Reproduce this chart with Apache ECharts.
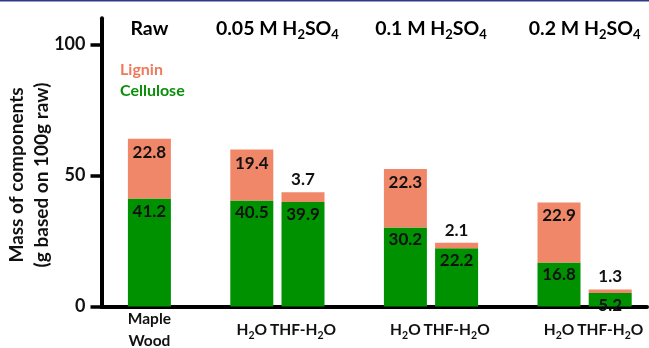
<!DOCTYPE html>
<html>
<head>
<meta charset="utf-8">
<script src="https://cdn.jsdelivr.net/npm/echarts@6/dist/echarts.min.js"></script>
<style>
  html, body { margin: 0; padding: 0; background: #fff; }
  #chart { width: 649px; height: 348px; }
</style>
</head>
<body>
<div id="chart"></div>
<script>
// Pretreatment groups and the treatments within them
const groups = ['Raw', '0.05 M H2SO4', '0.1 M H2SO4', '0.2 M H2SO4'];
const treatments = ['Maple\nWood', 'H2O', 'THF-H2O', 'H2O', 'THF-H2O', 'H2O', 'THF-H2O'];
const treatmentGroup = [0, 1, 1, 2, 2, 3, 3];

// Mass of components, g per 100 g raw wood
const cellulose = [41.2, 40.5, 39.9, 30.2, 22.2, 16.8, 5.2];
const lignin = [22.8, 19.4, 3.7, 22.3, 2.1, 22.9, 1.3];

const yTicks = [0, 50, 100];
const yMax = 110;

const FONT = 'Lato';
const LIGNIN = '#F08769';
const CELL = '#009100';

// Subscript digits that follow a letter (H2SO4 -> H{s|2}SO{s|4})
function chem(s, base, sub) {
  return s.split('\n').map(line =>
    line.replace(/([A-Za-z])(\d)/g, '$1\u0000$2\u0001')
        .split(/(\u0000\d\u0001)/)
        .filter(t => t.length)
        .map(t => t[0] === '\u0000' ? '{' + sub + '|' + t[1] + '}' : '{' + base + '|' + t + '}')
        .join('')
  ).join('\n');
}

// Category slots: a blank spacer separates neighbouring groups
const slots = [], cellData = [], ligData = [], slotOfBar = [];
treatments.forEach((t, i) => {
  if (i > 0 && treatmentGroup[i] !== treatmentGroup[i - 1]) {
    slots.push(''); cellData.push('-'); ligData.push('-');
  }
  slotOfBar.push(slots.length);
  slots.push(t);
  cellData.push(cellulose[i]);
  ligData.push({
    value: lignin[i],
    label: lignin[i] < 8
      ? { position: 'top', distance: 4 }
      : { position: 'insideTop', distance: 5 }
  });
});

const chart = echarts.init(document.getElementById('chart'), null, { renderer: 'canvas' });

const gridTop = 18.3, gridBottom = 41.5;
const valueLabel = {
  show: true,
  color: '#111',
  fontFamily: FONT,
  fontWeight: 'bold',
  fontSize: 17
};

chart.setOption({
  animation: false,
  backgroundColor: '#fff',
  grid: [
    { left: 123.8, right: 13.2, top: gridTop, bottom: gridBottom, outerBoundsMode: 'none', containLabel: false },
    { left: 101.5, right: 2, top: gridTop, bottom: gridBottom, outerBoundsMode: 'none', containLabel: false }
  ],
  legend: {
    orient: 'vertical',
    left: 110,
    top: 57,
    itemWidth: 0,
    itemHeight: 0,
    itemGap: 5,
    selectedMode: false,
    textStyle: { fontFamily: FONT, fontWeight: 'bold', fontSize: 16 },
    data: [
      { name: 'Lignin', textStyle: { color: '#EF7A5C' } },
      { name: 'Cellulose', textStyle: { color: '#0A8F0A' } }
    ]
  },
  xAxis: [
    {
      type: 'category',
      gridIndex: 0,
      data: slots,
      axisLine: { show: false },
      axisTick: { show: false },
      axisLabel: {
        interval: 0,
        margin: 23.5,
        verticalAlign: 'middle',
        formatter: v => chem(v, 'a', 's'),
        rich: {
          a: { fontFamily: FONT, fontWeight: 'bold', fontSize: 15.5, color: '#111', lineHeight: 22 },
          s: { fontFamily: FONT, fontWeight: 'bold', fontSize: 10.5, color: '#111', lineHeight: 11, verticalAlign: 'bottom' }
        }
      }
    },
    {
      type: 'value',
      gridIndex: 1,
      min: 0, max: 1,
      offset: 1.5,
      axisLine: { show: true, lineStyle: { color: '#000', width: 4 } },
      axisTick: { show: false },
      axisLabel: { show: false },
      splitLine: { show: false }
    }
  ],
  yAxis: [
    {
      type: 'value', gridIndex: 0, min: 0, max: yMax, show: false
    },
    {
      type: 'value', gridIndex: 1, min: 0, max: yMax,
      axisLine: { show: true, lineStyle: { color: '#000', width: 4 } },
      axisTick: { show: true, length: 11, customValues: yTicks, lineStyle: { color: '#000', width: 3.5 } },
      axisLabel: {
        customValues: yTicks, margin: 16,
        fontFamily: FONT, fontWeight: 'bold', fontSize: 18, color: '#111'
      },
      splitLine: { show: false }
    }
  ],
  series: [
    {
      name: 'Cellulose', type: 'bar', stack: 'mass',
      xAxisIndex: 0, yAxisIndex: 0,
      barWidth: 43,
      itemStyle: { color: CELL },
      label: Object.assign({ position: 'insideTop', distance: 4 }, valueLabel),
      data: cellData
    },
    {
      name: 'Lignin', type: 'bar', stack: 'mass',
      xAxisIndex: 0, yAxisIndex: 0,
      barWidth: 43,
      itemStyle: { color: LIGNIN },
      label: valueLabel,
      data: ligData
    }
  ]
});

// Group headings centred over each group's bars, plus the y-axis title
const headerRich = {
  a: { fontFamily: FONT, fontWeight: 'bold', fontSize: 19.5, color: '#111', lineHeight: 25 },
  s: { fontFamily: FONT, fontWeight: 'bold', fontSize: 13, color: '#111', lineHeight: 13, verticalAlign: 'bottom' }
};
const headers = groups.map((g, gi) => {
  const xs = slotOfBar.filter((_, i) => treatmentGroup[i] === gi)
    .map(s => chart.convertToPixel({ xAxisIndex: 0 }, s));
  const cx = (Math.min(...xs) + Math.max(...xs)) / 2;
  return {
    type: 'text', x: cx, y: 29,
    style: { text: chem(g, 'a', 's'), rich: headerRich, align: 'center', verticalAlign: 'middle' }
  };
});

chart.setOption({
  graphic: [
    { type: 'rect', shape: { x: 0, y: 0, width: 649, height: 1.5 }, style: { fill: '#2E3A87' } },
    {
      type: 'text', x: 29, y: 175, rotation: Math.PI / 2,
      style: {
        text: 'Mass of components\n(g based on 100g raw)',
        align: 'center', verticalAlign: 'middle',
        fontFamily: FONT, fontWeight: 'bold', fontSize: 19, lineHeight: 25, fill: '#111'
      }
    }
  ].concat(headers)
});
</script>
</body>
</html>
